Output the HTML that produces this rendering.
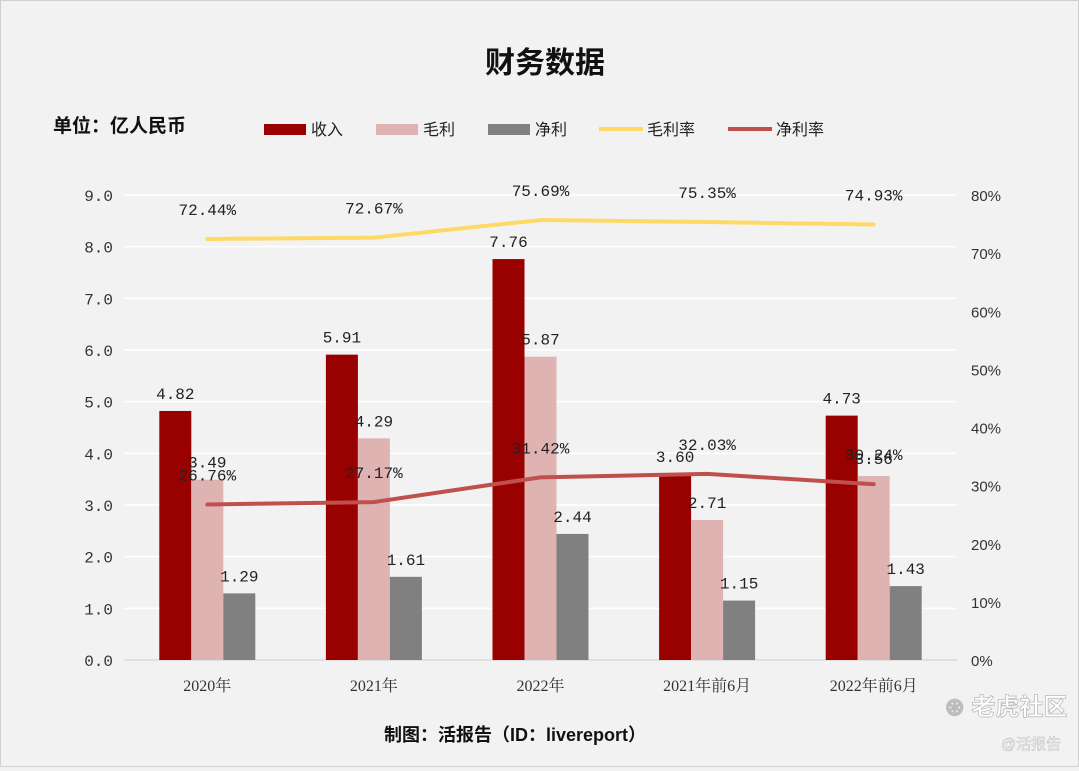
<!DOCTYPE html>
<html><head><meta charset="utf-8"><style>
body{margin:0;background:#f2f2f2;}
#wrap{position:relative;width:1077px;height:765px;border:1px solid #d0d0d0;background:#f2f2f2;font-family:"Liberation Sans","Noto Sans CJK SC",sans-serif;}
</style></head><body>
<div id="wrap">
<svg id="svg" width="1077" height="765" xmlns="http://www.w3.org/2000/svg">
<text x="544" y="72" text-anchor="middle" font-size="30" font-weight="bold" font-family="Liberation Sans,Noto Sans CJK SC,sans-serif" fill="#111">财务数据</text>
<text x="52" y="131" font-size="19" font-weight="bold" font-family="Liberation Sans,Noto Sans CJK SC,sans-serif" fill="#111">单位：亿人民币</text>
<g font-size="16" font-family="Liberation Sans,Noto Sans CJK SC,sans-serif" fill="#222">
<g><rect x="263" y="123" width="42" height="11" fill="#990000"/><text x="310" y="134">收入</text></g>
<g><rect x="375" y="123" width="42" height="11" fill="#e0b3b3"/><text x="422" y="134">毛利</text></g>
<g><rect x="487" y="123" width="42" height="11" fill="#808080"/><text x="534" y="134">净利</text></g>
<g><line x1="598" y1="128" x2="642" y2="128" stroke="#ffd966" stroke-width="4"/><text x="646" y="134">毛利率</text></g>
<g><line x1="727" y1="128" x2="771" y2="128" stroke="#c0504d" stroke-width="4"/><text x="775" y="134">净利率</text></g>
</g>
<g id="plot"></g>
<text x="514" y="740" text-anchor="middle" font-size="18" font-weight="bold" font-family="Liberation Sans,Noto Sans CJK SC,sans-serif" fill="#111">制图：活报告（ID：livereport）</text>
<text x="1005" y="714" text-anchor="middle" font-size="24" font-weight="bold" font-family="Liberation Sans,Noto Sans CJK SC,sans-serif" fill="#fff" stroke="#bbb" stroke-width="0.8">⊛ 老虎社区</text>
<text x="1030" y="748" text-anchor="middle" font-size="15" font-family="Liberation Sans,Noto Sans CJK SC,sans-serif" fill="#fff" stroke="#bbb" stroke-width="0.5">@活报告</text>
</svg>
</div>
<script>
const categories=["2020年","2021年","2022年","2021年前6月","2022年前6月"];
const revenue=[4.82,5.91,7.76,3.60,4.73];
const grossProfit=[3.49,4.29,5.87,2.71,3.56];
const netProfit=[1.29,1.61,2.44,1.15,1.43];
const grossMargin=[72.44,72.67,75.69,75.35,74.93];
const netMargin=[26.76,27.17,31.42,32.03,30.24];
const leftTicks=[0,1,2,3,4,5,6,7,8,9];
const rightTicks=[0,10,20,30,40,50,60,70,80];

const NS="http://www.w3.org/2000/svg";
const g=document.getElementById('plot');
const X0=123,X1=956,Y0=659,Y9=194;
const yL=v=>Y0-(v/9)*(Y0-Y9);
const yR=v=>Y0-(v/80)*(Y0-Y9);
const step=(X1-X0)/categories.length;
const xC=i=>X0+step*(i+0.5);
const BW=32;
function mk(t,a,txt){const e=document.createElementNS(NS,t);for(const k in a)e.setAttribute(k,a[k]);if(txt!==undefined)e.textContent=txt;g.appendChild(e);return e;}
const mono="Liberation Mono,Noto Sans CJK SC,monospace";
leftTicks.forEach(v=>{
 const l=mk('line',{x1:X0,x2:X1,y1:yL(v),y2:yL(v),stroke:v===0?'#d9d9d9':'#ffffff','stroke-width':1.5});
 
 const t=mk('text',{x:112,y:yL(v)+6,'text-anchor':'end','font-size':16,'font-family':mono,fill:'#333'},v.toFixed(1));
 
});
rightTicks.forEach(v=>{
 const t=mk('text',{x:970,y:yR(v)+6,'font-size':15,'font-family':"Liberation Sans,sans-serif",fill:'#333'},v+'%');
 
});
const series=[[revenue,'#990000',-48],[grossProfit,'#e0b3b3',-16],[netProfit,'#808080',16]];
categories.forEach((c,i)=>{
 const t=mk('text',{x:xC(i),y:690,'text-anchor':'middle','font-size':16,'font-family':"Liberation Serif,Noto Serif CJK SC,serif",fill:'#333'},c);
 
 series.forEach(([arr,col,off],s)=>{
  const r=mk('rect',{x:xC(i)+off,y:yL(arr[i]),width:BW,height:Y0-yL(arr[i]),fill:col});
  
  const l=mk('text',{x:xC(i)+off+BW/2,y:yL(arr[i])-12,'text-anchor':'middle','font-size':16,'font-family':mono,fill:'#222'},arr[i].toFixed(2));
  
 });
});
[[grossMargin,'#ffd966'],[netMargin,'#c0504d']].forEach(([arr,col])=>{
 const p=mk('polyline',{points:arr.map((v,i)=>xC(i)+','+yR(v)).join(' '),fill:'none',stroke:col,'stroke-width':4,'stroke-linejoin':'round','stroke-linecap':'round'});
 
 arr.forEach((v,i)=>{
  const t=mk('text',{x:xC(i),y:yR(v)-24,'text-anchor':'middle','font-size':16,'font-family':mono,fill:'#222'},v.toFixed(2)+'%');
  
 });
});
</script>
</body></html>
